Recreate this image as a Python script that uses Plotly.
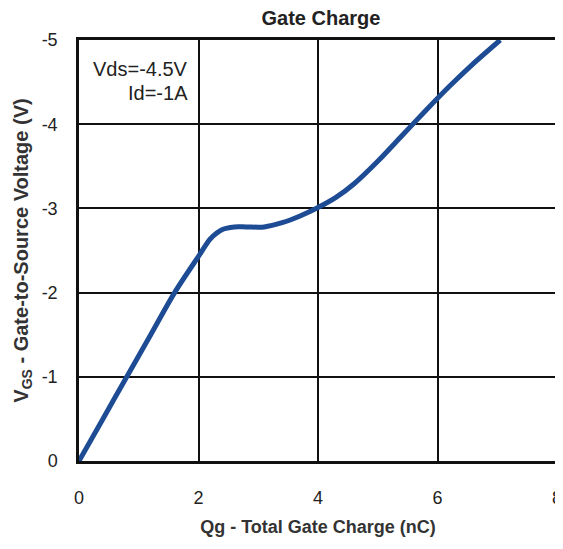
import plotly.graph_objects as go

qg = [0, 0.4, 0.8, 1.2, 1.6, 2.0, 2.2, 2.4, 2.6, 2.8, 3.1, 3.4, 3.7, 4.0, 4.3, 4.6, 5.0, 5.4, 5.8, 6.2, 6.6, 7.05]
vgs = [0, -0.5, -1.0, -1.5, -2.0, -2.43, -2.64, -2.75, -2.78, -2.78, -2.78, -2.83, -2.91, -3.01, -3.13, -3.29, -3.56, -3.86, -4.16, -4.45, -4.72, -5.0]

x_ticks = [0, 2, 4, 6, 8]
y_ticks = [0, -1, -2, -3, -4, -5]

FONT = "Liberation Sans, Arial, sans-serif"

# the page body has a default 8px margin, so the figure is offset by 8px;
# it is drawn smaller so that the page does not overflow the window
W, H = 555, 533

fig = go.Figure()
fig.add_trace(go.Scatter(x=qg, y=vgs, mode="lines",
                         line=dict(color="#1d4b94", width=5, shape="spline", smoothing=0.8),
                         showlegend=False, hoverinfo="skip"))

fig.add_annotation(x=1.86, y=-4.66, xref="x", yref="y", xanchor="right", yanchor="middle",
                   text="Vds=-4.5V", showarrow=False,
                   font=dict(family=FONT, size=20, color="#222"))
fig.add_annotation(x=1.86, y=-4.37, xref="x", yref="y", xanchor="right", yanchor="middle",
                   text="Id=-1A", showarrow=False,
                   font=dict(family=FONT, size=20, color="#222"))

fig.update_layout(
    width=W, height=H,
    margin=dict(l=71, r=6, t=32, b=80, autoexpand=False),
    paper_bgcolor="white", plot_bgcolor="white",
    font=dict(family=FONT, size=18, color="#222"),
    title=dict(text="<b>Gate Charge</b>", x=313/W, xanchor="center", y=1 - 10/H, yanchor="middle",
               font=dict(size=20, color="#222")),
    xaxis=dict(range=[0, 8], tickvals=x_ticks, ticktext=[str(t) for t in x_ticks],
               showgrid=True, gridcolor="#111", gridwidth=2,
               showline=True, linecolor="#111", linewidth=2.5, mirror=True,
               zeroline=False, ticks="", ticklabelstandoff=19, automargin=False,
               ticklabeloverflow="allow",
               title=dict(text="<b>Qg - Total Gate Charge (nC)</b>", standoff=14,
                          font=dict(size=18, color="#333"))),
    yaxis=dict(range=[0, -5], tickvals=y_ticks, ticktext=[str(t) for t in y_ticks],
               showgrid=True, gridcolor="#111", gridwidth=2,
               showline=True, linecolor="#111", linewidth=2.5, mirror=True,
               zeroline=False, ticks="", ticklabelstandoff=15, automargin=False,
               ticklabeloverflow="allow",
               title=dict(text="<b>V<sub>GS</sub> - Gate-to-Source Voltage (V)</b>", standoff=8,
                          font=dict(size=20, color="#333"))),
)

fig.write_html("out.html")
